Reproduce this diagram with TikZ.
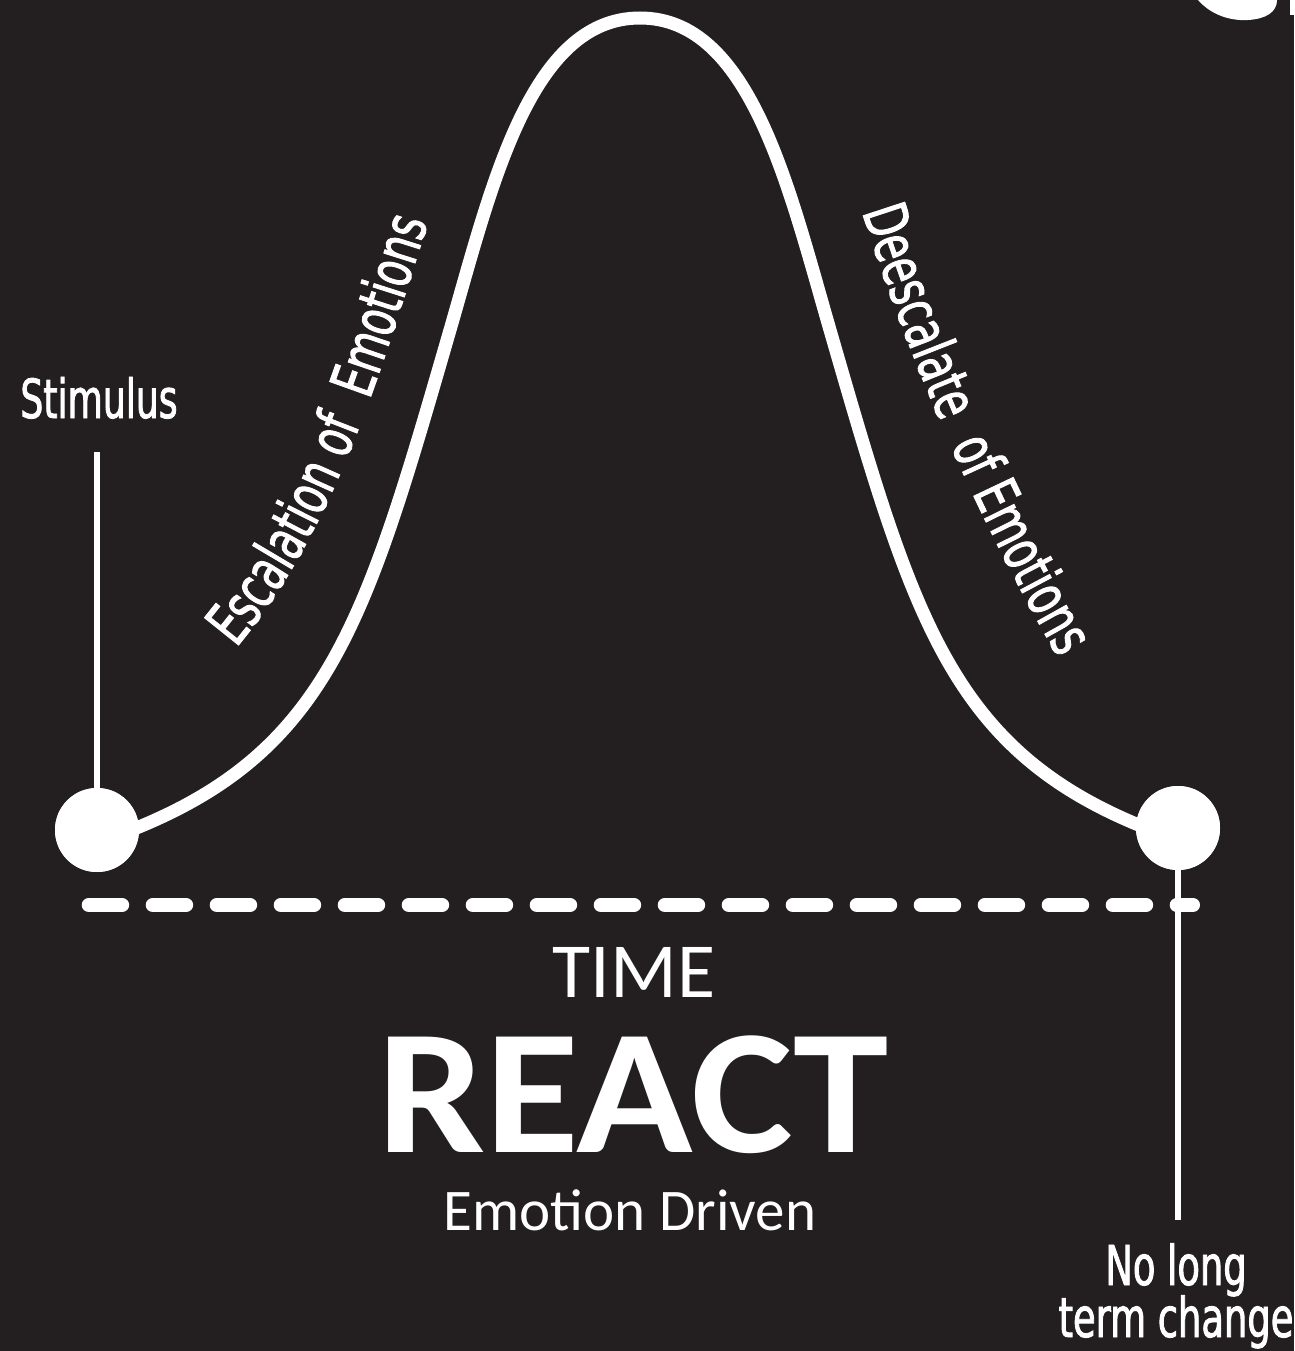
\documentclass[tikz,border=0pt]{standalone}
\usepackage{fontspec}
\usetikzlibrary{decorations.text}
\newfontfamily\oswf[FakeStretch=0.67,FakeBold=1.5]{DejaVu Sans}
\newfontfamily\calib{Carlito}
\newfontfamily\calibw[FakeStretch=1.08]{Carlito}
\definecolor{bg}{HTML}{231F20}
\begin{document}
\begin{tikzpicture}[x=1pt,y=-1pt,
  dot/.style={circle,fill=white,minimum size=84pt,inner sep=0pt},
  bell/.style={white,line width=13pt},
  stem/.style={white,line width=6.5pt},
  timeline/.style={white,line width=14pt,line cap=round,dash pattern=on 33.5pt off 30.5pt},
  lbl/.style={text=white,font=\oswf\fontsize{54}{54}\selectfont,inner sep=0pt,anchor=base},
  cal/.style={text=white,inner sep=0pt,anchor=base}
]
\useasboundingbox (0,0) rectangle (1294,1351);
\fill[bg] (0,0) rectangle (1294,1351);

% nodes
\node[dot] (stim) at (97,830) {};
\node[dot] (fin) at (1178,828) {};
\coordinate (stimtop) at (97,452);
\coordinate (finbot) at (1178,1220);
\coordinate (tl0) at (88.7,905);
\coordinate (tl1) at (1193,905);

% time line
\draw[timeline] (tl0) -- (tl1);

% stems
\draw[stem] (stimtop) -- (stim.center);
\draw[stem] (fin.center) -- (finbot);

% bell curve
\draw[bell] (stim.center) -- (134,829)
  .. controls (330,750) and (366.6,618) .. (450,330)
  .. controls (491.7,186) and (530,18) .. (640,18)
  .. controls (750,18) and (788.3,186) .. (830,330)
  .. controls (913.4,618) and (950,750) .. (1146,828)
  -- (fin.center);

% dots on top
\node[dot] at (stim.center) {};
\node[dot] at (fin.center) {};

% labels
\node[lbl] (stimlbl) at (99,418) {Stimulus};
\node[lbl,font=\oswf\fontsize{55}{55}\selectfont] (nolong1) at (1176,1285) {No long};
\node[lbl,font=\oswf\fontsize{55}{55}\selectfont] (nolong2) at (1176,1337) {term change};

\path[decorate,decoration={text along path,text color=white,text align=left,
  text={|\oswf\fontsize{60}{60}\selectfont|Escalation of\ \ Emotions}}]
  (236,648) .. controls (339,525) and (383,362) .. (432,210) -- (443,176);
\path[decorate,decoration={text along path,text color=white,text align=left,
  text={|\oswf\fontsize{60}{60}\selectfont|Deescalate\ \ of Emotions}}]
  (862,212) .. controls (911,364) and (975,513) .. (1055,652) -- (1080,695);

\node[cal,font=\calib\fontsize{78}{78}\selectfont] (time) at (634,997) {TIME};
\node[cal,font=\calibw\bfseries\fontsize{178}{178}\selectfont] (react) at (633,1152) {REACT};
\node[cal,font=\calib\fontsize{59}{59}\selectfont] (emo) at (630,1230) {Emotion Driven};

% cut-off shape at top right
\fill[white] (1198,0) .. controls (1212,16) and (1232,21) .. (1248,20)
  .. controls (1266,19) and (1277,12) .. (1277,0) -- cycle;
\fill[white] (1290,0) rectangle (1294,15);
\end{tikzpicture}
\end{document}
